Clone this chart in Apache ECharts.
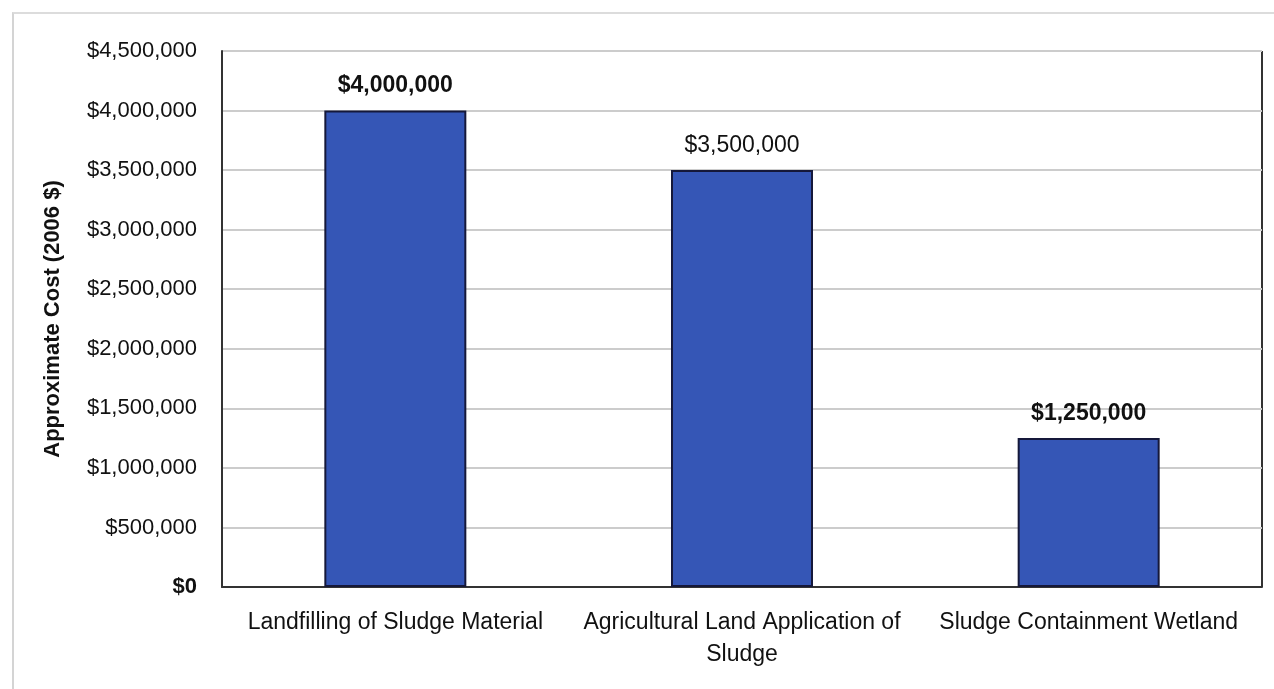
<!DOCTYPE html>
<html>
<head>
<meta charset="utf-8">
<script src="https://cdn.jsdelivr.net/npm/echarts@6/dist/echarts.min.js"></script>
<style>
  html, body { margin: 0; padding: 0; background: #fff; }
  #chart { width: 1274px; height: 689px; }
  #frame { position: absolute; left: 12px; top: 12px; width: 1270px; height: 690px;
           border-left: 2px solid #d4d4d4; border-top: 2px solid #dcdcdc; pointer-events: none; }
</style>
</head>
<body>
<div id="chart"></div>
<div id="frame"></div>
<script>
// Cost comparison of sludge management options
const categories = [
  'Landfilling of Sludge Material',
  'Agricultural Land Application of\nSludge',
  'Sludge Containment Wetland'
];
const costs = [4000000, 3500000, 1250000];
const labelBold = [true, false, true];
const yMin = 0, yMax = 4500000, yStep = 500000;

const FONT = 'Liberation Sans, Arial, sans-serif';
const fmt = v => '$' + Math.round(v).toLocaleString('en-US');

const chart = echarts.init(document.getElementById('chart'));
chart.setOption({
  animation: false,
  backgroundColor: '#ffffff',
  grid: { left: 222, right: 12, top: 51, bottom: 102 },
  xAxis: {
    type: 'category',
    data: categories,
    axisLine: { lineStyle: { color: '#333', width: 2 } },
    axisTick: { show: false },
    axisLabel: {
      color: '#111', fontFamily: FONT,
      fontSize: 23, margin: 20, lineHeight: 32, interval: 0
    }
  },
  yAxis: {
    type: 'value',
    min: yMin, max: yMax, interval: yStep,
    name: 'Approximate Cost (2006 $)',
    nameLocation: 'middle',
    nameGap: 158,
    nameTextStyle: { fontFamily: FONT, fontSize: 22, fontWeight: 'bold', color: '#111' },
    axisLine: { show: true, lineStyle: { color: '#333', width: 2 } },
    axisTick: { show: false },
    axisLabel: {
      color: '#111', fontFamily: FONT, fontSize: 22,
      margin: 25,
      formatter: v => v === 0 ? '{b|$0}' : fmt(v),
      rich: { b: { fontWeight: 'bold', fontSize: 22, color: '#111', fontFamily: FONT } }
    },
    splitLine: { lineStyle: { color: '#cccccc', width: 2 } }
  },
  series: [{
    type: 'bar',
    barWidth: 142,
    data: costs.map((v, i) => ({
      value: v,
      label: { fontWeight: labelBold[i] ? 'bold' : 'normal' }
    })),
    itemStyle: { color: '#3556b6', borderColor: '#15183a', borderWidth: 2 },
    label: {
      show: true, position: 'top', distance: 13,
      color: '#111', fontFamily: FONT, fontSize: 23,
      formatter: p => fmt(p.value)
    }
  }],
  graphic: [{
    type: 'line',
    shape: { x1: 1262, y1: 51, x2: 1262, y2: 587 },
    style: { stroke: '#333', lineWidth: 2 }
  }, {
    type: 'line',
    shape: { x1: 222, y1: 51, x2: 1262, y2: 51 },
    style: { stroke: '#333', lineWidth: 2 }
  }]
});
</script>
</body>
</html>
